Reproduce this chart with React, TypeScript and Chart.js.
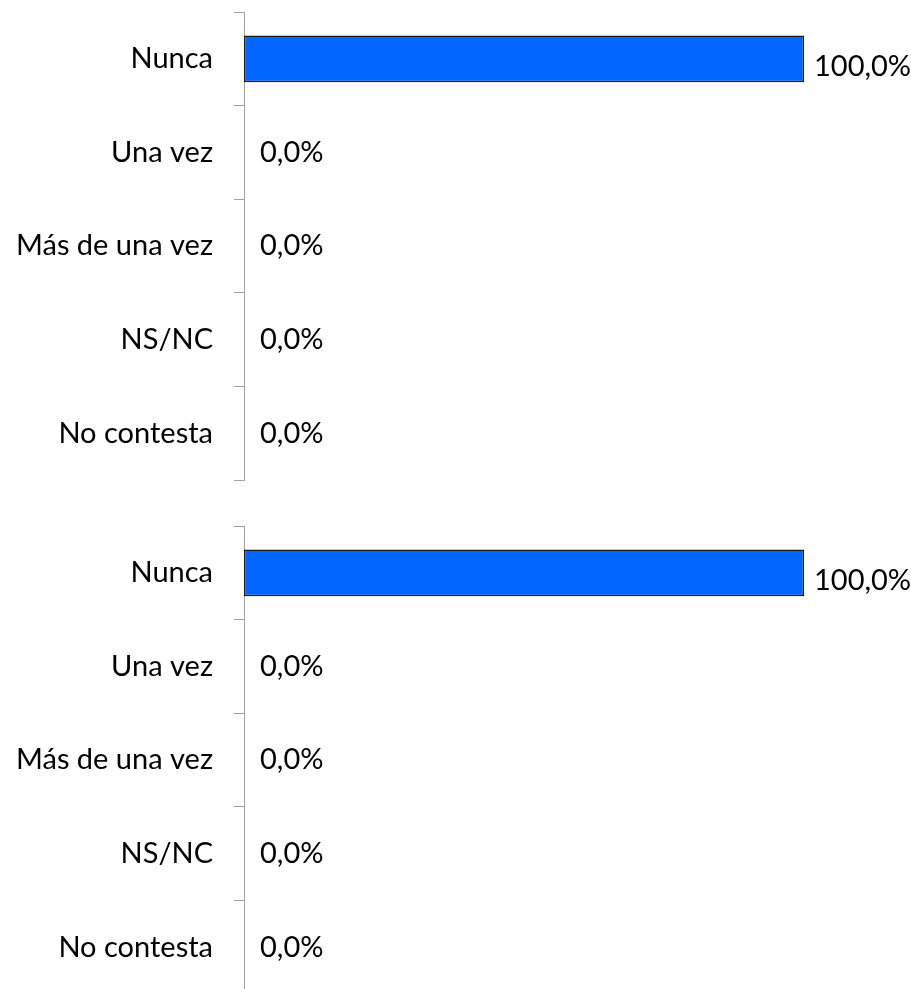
import React, { useEffect, useRef } from "react";
import { Chart, registerables } from "chart.js";

Chart.register(...registerables);

const categories = ["Nunca", "Una vez", "Más de una vez", "NS/NC", "No contesta"];
const valuesTop = [100, 0, 0, 0, 0];
const valuesBottom = [100, 0, 0, 0, 0];

const FONT = "Lato";
const FONT_SIZE = 29;

const labelPlugin = {
  id: "valueLabels",
  afterDatasetsDraw(chart: any) {
    const ctx = chart.ctx;
    const meta = chart.getDatasetMeta(0);
    const data = chart.data.datasets[0].data as number[];
    ctx.save();
    ctx.font = `${FONT_SIZE}px ${FONT}`;
    ctx.fillStyle = "#000";
    ctx.textAlign = "left";
    ctx.textBaseline = "middle";
    meta.data.forEach((bar: any, i: number) => {
      const v = data[i];
      const txt = v.toFixed(1).replace(".", ",") + "%";
      if (v > 0) ctx.fillText(txt, bar.x + 10, bar.y + 8);
      else ctx.fillText(txt, bar.x + 16, bar.y);
    });
    ctx.restore();
  },
};

function BarChart({ values, padTop, padBottom, height }: { values: number[]; padTop: number; padBottom: number; height: number }) {
  const ref = useRef<HTMLCanvasElement>(null);
  useEffect(() => {
    const chart = new Chart(ref.current!, {
      type: "bar",
      data: {
        labels: categories,
        datasets: [
          {
            data: values,
            backgroundColor: "#0066FF",
            borderColor: "#1a1a1a",
            borderWidth: 1.5,
            borderSkipped: false,
            barPercentage: 0.5,
            categoryPercentage: 1,
          },
        ],
      },
      options: {
        indexAxis: "y",
        animation: false,
        responsive: false,
        layout: { padding: { top: padTop, bottom: padBottom, right: 107, left: 0 } },
        plugins: { legend: { display: false }, tooltip: { enabled: false } },
        scales: {
          x: { display: false, min: 0, max: 100 },
          y: {
            afterFit: (s: any) => {
              s.width = 244;
              s.paddingTop = 0;
              s.paddingBottom = 0;
            },
            grid: {
              offset: true,
              drawOnChartArea: false,
              drawTicks: true,
              tickLength: 10,
              color: "#a0a0a0",
            },
            border: { display: true, color: "#a0a0a0", width: 1 },
            ticks: {
              color: "#000",
              padding: 21,
              font: { family: FONT, size: FONT_SIZE },
            },
          },
        },
      },
      plugins: [labelPlugin],
    });
    return () => chart.destroy();
  }, []);
  return <canvas ref={ref} width={911} height={height} style={{ display: "block", width: 911, height }} />;
}

export default function App() {
  return (
    <div style={{ position: "absolute", left: 0, top: 0, width: 911, height: 989, overflow: "hidden", background: "#fff" }}>
      <div style={{ position: "absolute", left: 0, top: 0 }}>
        <BarChart values={valuesTop} padTop={12} padBottom={20} height={500} />
      </div>
      <div style={{ position: "absolute", left: 0, top: 500 }}>
        <BarChart values={valuesBottom} padTop={26} padBottom={6} height={500} />
      </div>
    </div>
  );
}
